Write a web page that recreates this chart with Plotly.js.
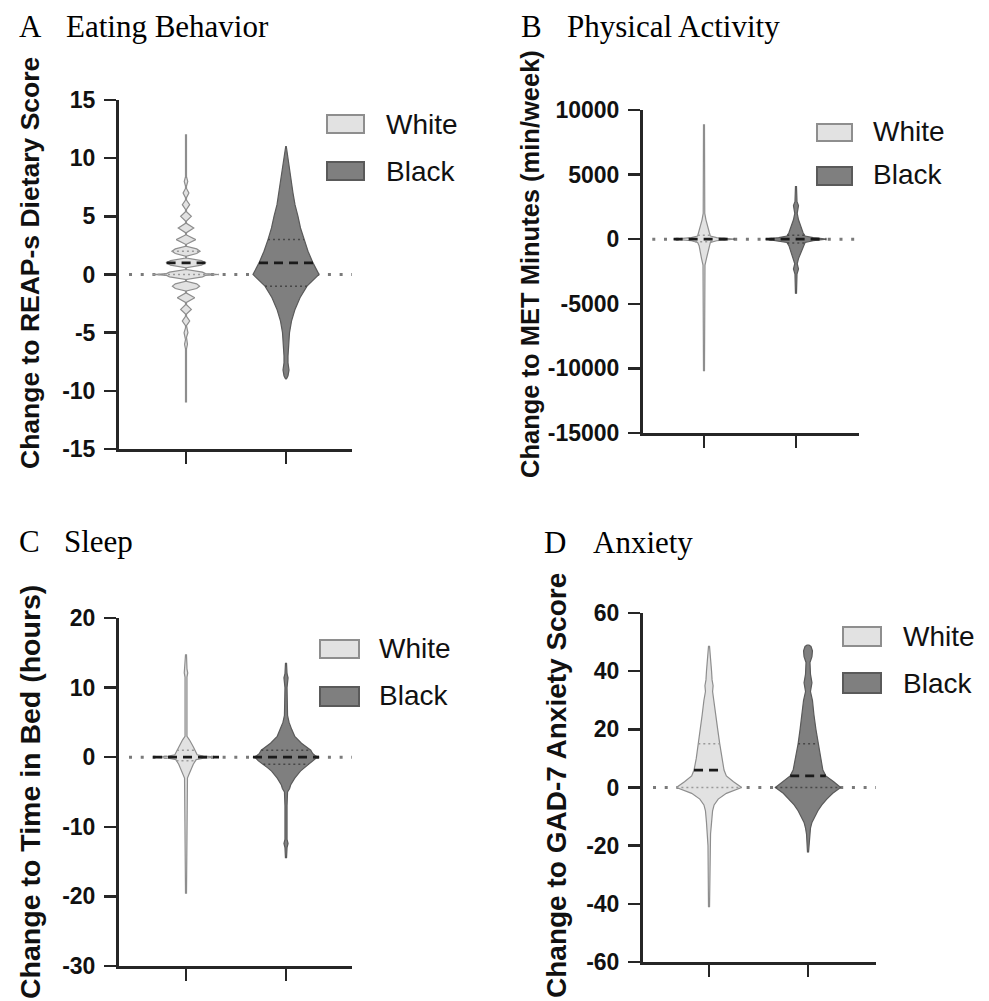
<!DOCTYPE html>
<html><head><meta charset="utf-8">
<script src="https://cdn.plot.ly/plotly-3.0.1.min.js"></script>
<style>html,body{margin:0;padding:0;background:#fff}#chart{width:989px;height:1001px}</style>
</head><body><div id="chart"></div>
<script>
// ================= DATA =================
const groups = ['White', 'Black'];
const panelLetters = ['A', 'B', 'C', 'D'];
const panelTitles = ['Eating Behavior', 'Physical Activity', 'Sleep', 'Anxiety'];
const yTitles = ['Change to REAP-s Dietary Score', 'Change to MET Minutes (min/week)',
                 'Change to Time in Bed (hours)', 'Change to GAD-7 Anxiety Score'];
const yTicksA = [-15, -10, -5, 0, 5, 10, 15];
const yTickTextA = ['-15', '-10', '-5', '0', '5', '10', '15'];
const yTicksB = [-15000, -10000, -5000, 0, 5000, 10000];
const yTickTextB = ['-15000', '-10000', '-5000', '0', '5000', '10000'];
const yTicksC = [-30, -20, -10, 0, 10, 20];
const yTickTextC = ['-30', '-20', '-10', '0', '10', '20'];
const yTicksD = [-60, -40, -20, 0, 20, 40, 60];
const yTickTextD = ['-60', '-40', '-20', '0', '20', '40', '60'];

// Violin outlines: value levels and relative density
// A  Eating behaviour – White (discrete lobes at integer scores)
const eatWhiteY = [-11, -6.4,-6,-5.6, -5.4,-5,-4.6, -4.4,-4,-3.6, -3.4,-3,-2.6, -2.4,-2,-1.6,
                   -1.42,-1.2,-1,-0.8,-0.58, -0.42,-0.2,-0.08,0,0.08,0.2,0.42, 0.58,0.8,1,1.2,1.42,
                   1.58,1.8,2,2.2,2.42, 2.6,3,3.4, 3.6,4,4.4, 4.6,5,5.4, 5.6,6,6.4,
                   6.6,7,7.4, 7.6,8,8.4, 12];
const eatWhiteD = [0.5, 0.5,1.5,0.5, 0.5,2,0.5, 0.5,3.8,0.5, 0.5,5.5,0.5, 0.5,9,0.5,
                   0.5,11,14,11,0.5, 0.5,17,20,34,20,17,0.5, 0.5,16,20,16,0.5,
                   0.5,11,14.5,11,0.5, 0.5,10,0.5, 0.5,8,0.5, 0.5,5.5,0.5, 0.5,3.8,0.5,
                   0.5,3,0.5, 0.5,1.8,0.5, 0.5];
const eatWhiteStats = [0, 1, 2];          // Q1, median, Q3
// A – Black
const eatBlackY = [-9, -8.7, -8.2, -7.6, -7, -6, -5, -4, -3, -2, -1, 0, 1, 2, 3, 4, 5, 6, 7, 8, 9, 10, 11];
const eatBlackD = [0.3, 2, 3, 2, 2, 2.5, 3.5, 5.5, 9, 14, 21, 33, 27, 22, 18, 14.5, 12, 9, 7, 5.5, 3.5, 2, 0.3];
const eatBlackStats = [-1, 1, 3];

// B  Physical activity (MET min/week)
const actWhiteY = [-10230, -2000, -1500, -1000, -500, -250, -120, 0, 120, 250, 500, 1000, 1500, 2000, 8850];
const actWhiteD = [0.5, 1, 2.5, 4, 5, 6.5, 13, 31, 13, 6.5, 5.5, 3.5, 2, 0.8, 0.5];
const actWhiteStats = [-200, 0, 300];
const actBlackY = [-4230, -2700, -2300, -1900, -1500, -1300, -1000, -500, -250, -120, 0, 120, 250, 500, 1000,
                   1500, 2000, 2300, 2600, 2900, 4080];
const actBlackD = [0.5, 1, 2.5, 1.2, 2.5, 3.5, 5, 7, 9, 17, 30, 17, 9, 7, 4.5, 2.5, 1.2, 1.5, 2.5, 1, 0.5];
const actBlackStats = [-300, 0, 300];

// C  Sleep (hours in bed)
const slpWhiteY = [-19.6, -3, -2.5, -2, -1, -0.35, -0.15, 0, 0.15, 0.35, 0.7, 1.5, 2.5, 3, 11.5, 12.1, 12.7, 14.7];
const slpWhiteD = [0.5, 1.5, 3, 4.5, 7.5, 10.5, 18, 34, 18, 11.5, 10.5, 7.5, 3.5, 1, 1, 1.8, 1, 0.5];
const slpWhiteStats = [-0.5, 0, 1];
const slpBlackY = [-14.5, -13, -12.4, -11.8, -7, -5, -4.5, -4, -3, -2, -1.5, -1, -0.5, -0.15, 0, 0.15, 0.5, 1,
                   2, 3, 4, 5, 6, 10, 11.4, 12, 13.5];
const slpBlackD = [0.5, 1, 2, 1, 1, 1.5, 3.5, 4.5, 8.5, 14, 18, 22, 27, 29, 32, 29, 26, 24, 15, 8.5, 5.5, 3, 1.5, 1, 2, 1, 0.5];
const slpBlackStats = [-1, 0, 1];

// D  Anxiety (GAD-7)
const anxWhiteY = [-41.2, -20, -16, -12, -8, -6, -4, -2, 0, 2, 4, 6, 10, 15, 20, 25, 30, 33, 35, 37, 40, 45, 48.5];
const anxWhiteD = [0.5, 1, 1.5, 2.5, 3.5, 5, 9, 17, 32, 24, 17, 14.7, 12.5, 10.5, 8.5, 6.7, 5, 3.5, 4, 3, 2.5, 1.5, 0.5];
const anxWhiteStats = [0, 6, 15];
const anxBlackY = [-22.3, -16, -14, -12, -10, -8, -6, -4, -2, 0, 2, 4, 6, 10, 15, 20, 25, 30, 33, 36, 39, 43,
                   45, 47, 48.5, 49];
const anxBlackD = [0.5, 1.5, 2.5, 4, 7, 10, 14, 19, 25, 33, 26, 18, 15, 13, 10, 8, 6, 4.5, 2.5, 4, 2.5, 2,
                   4, 4.5, 3, 1];
const anxBlackStats = [0, 4, 15];

// ================= STYLE / LAYOUT =================
const W = 989, H = 1001;
const px = v => v / W, py = v => 1 - v / H;
const HW = 0.33;                // max half-width of a violin, category units
const fillCol = {White: '#e2e2e2', Black: '#7f7f7f'};
const edgeCol = {White: '#8e8e8e', Black: '#5a5a5a'};
const quartCol = {White: '#9a9a9a', Black: '#474747'};
const axisCol = '#262626';

const panels = [
  {xa: 'x',  ya: 'y',  xd: [119, 352], yd: [449, 100], xr: [-0.67, 1.66],  yr: [-15, 15],
   ticks: yTicksA, tickText: yTickTextA,
   v: [[eatWhiteY, eatWhiteD, eatWhiteStats], [eatBlackY, eatBlackD, eatBlackStats]],
   letter: [17, 26], title: [64, 26], ytitle: [30, 263, 26.5],
   leg: {bx: [327, 364], by: [[115, 133], [162, 180]], tx: 384, ty: [124, 171]}},
  {xa: 'x2', ya: 'y2', xd: [643, 859], yd: [433, 110], xr: [-0.663, 1.685], yr: [-15000, 10000],
   ticks: yTicksB, tickText: yTickTextB,
   v: [[actWhiteY, actWhiteD, actWhiteStats], [actBlackY, actBlackD, actBlackStats]],
   letter: [519, 26], title: [565, 26], ytitle: [530, 264, 25.5],
   leg: {bx: [817, 852], by: [[124, 141], [167, 185]], tx: 871, ty: [132, 175]}},
  {xa: 'x3', ya: 'y3', xd: [119, 352], yd: [966, 618], xr: [-0.67, 1.66],  yr: [-30, 20],
   ticks: yTicksC, tickText: yTickTextC,
   v: [[slpWhiteY, slpWhiteD, slpWhiteStats], [slpBlackY, slpBlackD, slpBlackStats]],
   letter: [17, 541], title: [62, 541], ytitle: [30, 792, 28.5],
   leg: {bx: [320, 359], by: [[640, 658], [687, 706]], tx: 377, ty: [648, 695]}},
  {xa: 'x4', ya: 'y4', xd: [643, 876], yd: [962, 613], xr: [-0.667, 1.687], yr: [-60, 60],
   ticks: yTicksD, tickText: yTickTextD,
   v: [[anxWhiteY, anxWhiteD, anxWhiteStats], [anxBlackY, anxBlackD, anxBlackStats]],
   letter: [542, 542], title: [591, 542], ytitle: [556, 786, 28],
   leg: {bx: [843, 881], by: [[627, 646], [673, 693]], tx: 901, ty: [636, 683]}}
];

function widthAt(ys, ds, v) {
  for (let i = 0; i < ys.length - 1; i++) {
    if (v >= ys[i] && v <= ys[i + 1]) {
      const t = (v - ys[i]) / (ys[i + 1] - ys[i]);
      return ds[i] + t * (ds[i + 1] - ds[i]);
    }
  }
  return 0;
}

const traces = [];
const shapes = [];
const annotations = [];
const layout = {
  width: W, height: H, margin: {l: 0, r: 0, t: 0, b: 0},
  paper_bgcolor: '#fff', plot_bgcolor: 'rgba(0,0,0,0)', showlegend: false,
  font: {family: 'Liberation Sans, Arial, sans-serif', color: '#111'}
};

panels.forEach((p, k) => {
  const sfx = k === 0 ? '' : String(k + 1);
  layout['xaxis' + sfx] = {
    domain: [px(p.xd[0]), px(p.xd[1])], range: p.xr, anchor: p.ya, fixedrange: true,
    tickmode: 'array', tickvals: [0, 1], ticktext: ['', ''], ticks: 'outside', ticklen: 12,
    tickwidth: 2.5, tickcolor: axisCol, showline: true, linewidth: 3, linecolor: axisCol,
    showgrid: false, zeroline: false
  };
  layout['yaxis' + sfx] = {
    domain: [py(p.yd[0]), py(p.yd[1])], range: p.yr, anchor: p.xa, fixedrange: true,
    tickmode: 'array', tickvals: p.ticks, ticktext: p.tickText, ticks: 'outside', ticklen: 12, tickwidth: 2.5,
    tickcolor: axisCol, showline: true, linewidth: 3, linecolor: axisCol, showgrid: false,
    zeroline: false, ticklabelstandoff: 4,
    tickfont: {family: 'Liberation Sans, Arial, sans-serif', size: 23, weight: 'bold', color: '#111'}
  };
  // dotted zero reference line
  shapes.push({type: 'line', xref: p.xa + ' domain', yref: p.ya, x0: 0.043, x1: 1, y0: 0, y1: 0,
               layer: 'below', line: {color: '#7a7a7a', width: 3, dash: '3px,8.7px'}});

  p.v.forEach((vd, g) => {
    const [ys, ds, st] = vd;
    const grp = groups[g];
    const dmax = Math.max(...ds);
    const right = ys.map((y, i) => g + ds[i] / dmax * HW);
    const left = ys.map((y, i) => g - ds[i] / dmax * HW).reverse();
    traces.push({
      type: 'scatter', mode: 'lines', xaxis: p.xa, yaxis: p.ya,
      x: right.concat(left), y: ys.concat(ys.slice().reverse()),
      fill: 'toself', fillcolor: fillCol[grp], line: {color: edgeCol[grp], width: 1.2},
      hoverinfo: 'skip', name: grp
    });
    // quartiles (dotted) and median (dashed)
    st.forEach((val, j) => {
      const w = widthAt(ys, ds, val) / dmax * HW;
      const isMed = j === 1;
      traces.push({
        type: 'scatter', mode: 'lines', xaxis: p.xa, yaxis: p.ya,
        x: [g - w, g + w], y: [val, val], hoverinfo: 'skip',
        line: isMed ? {color: '#1a1a1a', width: 2.8, dash: '9px,6px'}
                    : {color: quartCol[grp], width: 1.5, dash: '2px,3px'}
      });
    });
  });

  // legend (boxes + labels)
  groups.forEach((grp, g) => {
    shapes.push({type: 'rect', xref: 'paper', yref: 'paper',
                 x0: px(p.leg.bx[0]), x1: px(p.leg.bx[1]), y0: py(p.leg.by[g][1]), y1: py(p.leg.by[g][0]),
                 fillcolor: fillCol[grp], line: {color: edgeCol[grp], width: 2}});
    annotations.push({xref: 'paper', yref: 'paper', x: px(p.leg.tx), y: py(p.leg.ty[g]),
                      xanchor: 'left', yanchor: 'middle', showarrow: false, text: grp,
                      font: {family: 'Liberation Sans, Arial, sans-serif', size: 28, color: '#111'}});
  });

  // panel letter + title
  annotations.push({xref: 'paper', yref: 'paper', x: px(p.letter[0]), y: py(p.letter[1]),
                    xanchor: 'left', yanchor: 'middle', showarrow: false, text: panelLetters[k],
                    font: {family: 'Liberation Serif, Times New Roman, serif', size: 31, color: '#000'}});
  annotations.push({xref: 'paper', yref: 'paper', x: px(p.title[0]), y: py(p.title[1]),
                    xanchor: 'left', yanchor: 'middle', showarrow: false, text: panelTitles[k],
                    font: {family: 'Liberation Serif, Times New Roman, serif', size: 31, color: '#000'}});
  // y-axis title
  annotations.push({xref: 'paper', yref: 'paper', x: px(p.ytitle[0]), y: py(p.ytitle[1]),
                    xanchor: 'center', yanchor: 'middle', showarrow: false, textangle: -90,
                    text: yTitles[k],
                    font: {family: 'Liberation Sans, Arial, sans-serif', size: p.ytitle[2], weight: 'bold', color: '#111'}});
});

layout.shapes = shapes;
layout.annotations = annotations;
Plotly.newPlot('chart', traces, layout, {staticPlot: true, displayModeBar: false});
</script>
</body></html>
